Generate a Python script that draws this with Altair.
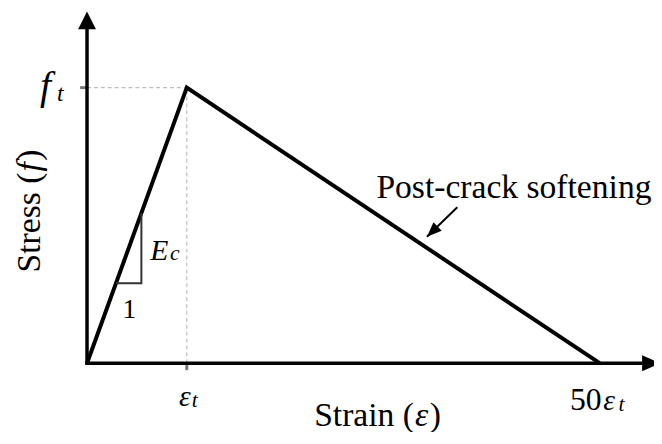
import altair as alt
import pandas as pd

# ---- data (normalised: strain in multiples of eps_t, stress in multiples of f_t)
strain = [0, 1, 50]
stress = [0, 1, 0]

# slope triangle (rise = run, slope 1 in normalised units)
tri_strain = [0.29, 0.545, 0.545]
tri_stress = [0.29, 0.29, 0.545]

# dashed guide lines to the peak
guide_strain = [0, 1]
guide_stress = [1, 0]
guide_strain2 = [1, 1]
guide_stress2 = [1, 1]

# annotation
note_text = ["Post-crack softening"]
note_strain = [23.5]
note_stress = [0.599]
arrow_strain = [33.1, 29.5]
arrow_stress = [0.566, 0.459]

FONT = "Liberation Serif"

xs = alt.Scale(domain=[0, 1, 50], range=[80, 181, 599], nice=False, zero=False)
ys = alt.Scale(domain=[0, 1], range=[357, 78], nice=False, zero=False)


def X(f="strain"):
    return alt.X(f, type="quantitative", scale=xs, axis=None)


def Y(f="stress"):
    return alt.Y(f, type="quantitative", scale=ys, axis=None)


one = pd.DataFrame({"a": [0]})

# axes (drawn as arrows)
y_axis = alt.Chart(one).mark_rule(color="black", strokeWidth=3.5).encode(
    x=alt.value(80), y=alt.value(358.5), y2=alt.value(17))
x_axis = alt.Chart(one).mark_rule(color="black", strokeWidth=3.5).encode(
    x=alt.value(78.3), x2=alt.value(643), y=alt.value(357))
y_head = alt.Chart(one).mark_point(shape="M0,0L-1,2L1,2Z", size=324, filled=True,
                                   color="black", opacity=1, strokeWidth=0).encode(
    x=alt.value(80), y=alt.value(1))
x_head = alt.Chart(one).mark_point(shape="M0,0L-0.9,2L0.9,2Z", size=324, filled=True,
                                   color="black", opacity=1, strokeWidth=0, angle=90).encode(
    x=alt.value(660), y=alt.value(357))

# dashed guides
gdf = pd.DataFrame({"strain": guide_strain, "stress": guide_stress,
                    "strain2": guide_strain2, "stress2": guide_stress2})
guides = alt.Chart(gdf).mark_rule(color="#bdbdbd", strokeWidth=1.2, strokeDash=[4, 3]).encode(
    x=X(), y=Y(), x2="strain2", y2="stress2")

# ticks
ytick = alt.Chart(pd.DataFrame({"strain": [0], "stress": [1]})).mark_rule(
    color="#777777", strokeWidth=3, xOffset=-7).encode(x=X(), x2=alt.X2("strain"), y=Y())
xtick = alt.Chart(pd.DataFrame({"strain": [1], "stress": [0]})).mark_rule(
    color="#777777", strokeWidth=3, y2Offset=7).encode(x=X(), y=Y(), y2=alt.Y2("stress"))

# curve
cdf = pd.DataFrame({"strain": strain, "stress": stress, "i": range(len(strain))})
curve = alt.Chart(cdf).mark_line(color="black", strokeWidth=4, strokeJoin="miter").encode(
    x=X(), y=Y(), order="i")

# slope triangle
tdf = pd.DataFrame({"strain": tri_strain, "stress": tri_stress, "i": range(3)})
tri = alt.Chart(tdf).mark_line(color="#333333", strokeWidth=2).encode(x=X(), y=Y(), order="i")

# annotation arrow
adf = pd.DataFrame({"strain": arrow_strain, "stress": arrow_stress, "i": [0, 1]})
arrow_line = alt.Chart(adf).mark_line(color="black", strokeWidth=2).encode(x=X(), y=Y(), order="i")
arrow_head = alt.Chart(adf.iloc[[1]]).mark_point(
    shape="M0,0L-0.8,2L0.8,2Z", size=225, filled=True, color="black", opacity=1,
    strokeWidth=0, angle=226).encode(x=X(), y=Y())


def txt(labels, sx, sy, size, italic=False, align="center", dx=0, dy=0):
    df = pd.DataFrame({"strain": sx, "stress": sy, "label": labels})
    return alt.Chart(df).mark_text(font=FONT, fontSize=size,
                                   fontStyle="italic" if italic else "normal",
                                   align=align, baseline="alphabetic", dx=dx, dy=dy,
                                   color="black").encode(x=X(), y=Y(), text="label")


labels = [
    txt(["f"], [0], [1], 40, True, dx=-42, dy=12),
    txt(["t"], [0], [1], 24, True, dx=-27, dy=14),
    txt(["ε"], [1], [0], 30, True, dx=-2, dy=43),
    txt(["t"], [1], [0], 22, True, dx=8, dy=44),
    txt(["50"], [50], [0], 32, False, align="right", dx=2, dy=47),
    txt(["ε"], [50], [0], 30, True, dx=9.5, dy=47),
    txt(["t"], [50], [0], 22, True, dx=22, dy=48),
    txt(["E"], [0.634], [0.376], 30, True, align="left"),
    txt(["c"], [0.832], [0.376], 22, True, align="left"),
    txt(["1"], [0.426], [0.165], 28, False),
    txt(note_text, note_strain, note_stress, 34, False, align="left"),
]


def title(label, x, y, size=34, italic=False, align="left", angle=0):
    return alt.Chart(one).mark_text(text=label, font=FONT, fontSize=size,
                                    fontStyle="italic" if italic else "normal",
                                    align=align, baseline="alphabetic", angle=angle,
                                    color="black").encode(x=alt.value(x), y=alt.value(y))


titles = [
    title("Strain (", 411, 421, align="right"),
    title("ε", 412, 421, italic=True),
    title(")", 427, 421),
    title("Stress (", 32, 164, align="right", angle=270),
    title("f", 32, 163, italic=True, angle=270),
    title(")", 32, 152, angle=270),
]

chart = alt.layer(guides, ytick, xtick, y_axis, x_axis, y_head, x_head, curve, tri,
                  arrow_line, arrow_head, *labels, *titles).properties(
    width=654, height=424, autosize="none", padding=0
).configure_view(stroke=None)

chart.save("out.html", embed_options={"renderer": "svg", "actions": False})
